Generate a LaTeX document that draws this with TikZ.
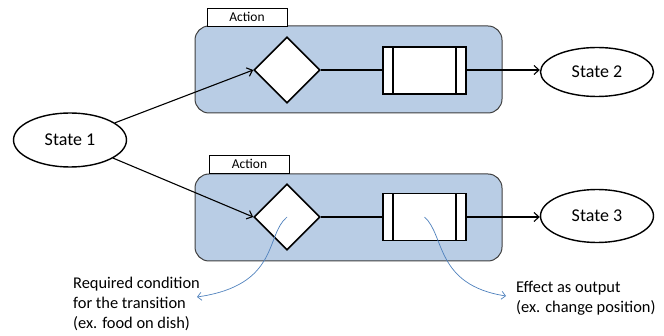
\documentclass[tikz,border=0pt]{standalone}
\usepackage{fontspec}
\setmainfont{Carlito}
\usepackage{tikz}
\usetikzlibrary{arrows.meta,positioning,shapes.geometric,calc}
\definecolor{actfill}{HTML}{B9CDE5}
\definecolor{actline}{HTML}{3F3F3F}
\definecolor{noteline}{HTML}{4F81BD}
\tikzset{
  statenode/.style={ellipse,draw=black,line width=1.4pt,fill=white,minimum width=113pt,inner sep=0pt,font=\fontsize{18}{20}\selectfont},
  actbox/.style={draw=actline,fill=actfill,line width=1pt,rounded corners=14pt,minimum width=307pt,minimum height=87pt,inner sep=0pt},
  acttab/.style={draw=black,fill=white,line width=0.7pt,minimum width=80pt,minimum height=18pt,inner sep=0pt,font=\fontsize{13.5}{15}\selectfont},
  condnode/.style={diamond,draw=black,fill=white,line width=1.6pt,minimum width=66pt,minimum height=66pt,inner sep=0pt},
  procnode/.style={draw=black,fill=white,line width=1.6pt,minimum width=83pt,minimum height=47pt,inner sep=0pt,
    path picture={
      \draw[line width=1.6pt] ([xshift=10pt]path picture bounding box.north west) -- ([xshift=10pt]path picture bounding box.south west);
      \draw[line width=1.6pt] ([xshift=-10pt]path picture bounding box.north east) -- ([xshift=-10pt]path picture bounding box.south east);}},
  varr/.style={-{Straight Barb[length=5pt,width=9pt]},line width=1.1pt,draw=black},
  vline/.style={line width=1.1pt,draw=black},
  vnote/.style={-{Straight Barb[length=4pt,width=8pt]},line width=0.7pt,draw=noteline},
  notetext/.style={align=left,anchor=north west,inner sep=0pt,font=\fontsize{16.4}{20}\selectfont}
}
\begin{document}
\begin{tikzpicture}[x=1pt,y=-1pt]
  \useasboundingbox (0,0) rectangle (664,336);
  % actions
  \node[actbox] (act1) at (348.5,69.5) {};
  \node[acttab] (tab1) at (247,17) {Action};
  \node[actbox] (act2) at (348.5,217.5) {};
  \node[acttab] (tab2) at (249.5,164) {Action};
  \node[condnode] (d1) at (287,70) {};
  \node[procnode] (p1) at (424.5,70.5) {};
  \node[condnode] (d2) at (287,217) {};
  \node[procnode] (p2) at (424.5,217) {};
  % states
  \node[statenode,minimum height=54pt] (s1) at (70,140) {State 1};
  \node[statenode,minimum height=49pt] (s2) at (597,72) {State 2};
  \node[statenode,minimum height=53pt] (s3) at (597,216) {State 3};
  \draw[varr] (s1) -- (d1.west);
  \draw[varr] (s1) -- (d2.west);
  \draw[vline] (d1.east) -- (p1.west |- d1.east);
  \draw[varr] (p1.east |- d1.east) -- (s2.west |- d1.east);
  \draw[vline] (d2.east) -- (p2.west |- d2.east);
  \draw[varr] (p2.east |- d2.east) -- (s3.west |- d2.east);
  % notes
  \node[notetext] (n1) at (73,277) {Required condition\\for the transition\\(ex. food on dish)};
  \node[notetext] (n2) at (516,281) {Effect as output\\(ex. change position)};
  \coordinate (t1) at (197,297);
  \coordinate (t2) at (506,296);
  \draw[vnote] (d2.center) .. controls (265,235) and (280,285) .. (t1);
  \draw[vnote] (p2.center) .. controls (445,235) and (435,285) .. (t2);
\end{tikzpicture}
\end{document}
